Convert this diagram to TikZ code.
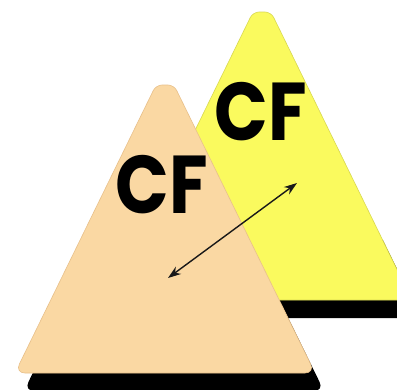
\documentclass[tikz,border=0pt]{standalone}
\usepackage{fontspec}
\newfontfamily\cffont{Poppins}
\usetikzlibrary{arrows.meta}
\definecolor{peach}{HTML}{FAD8A3}
\definecolor{lemon}{HTML}{FAFA5E}
\definecolor{peachedge}{HTML}{E8C08A}
\definecolor{lemonedge}{HTML}{D8D850}
\tikzset{
  cftri/.pic={
    \path[pic actions] (0,300) [rounded corners=10] -- (150,300) [rounded corners=6] -- (9,12) -- (-9,12) [rounded corners=10] -- (-150,300) -- cycle;
  },
  cfshadow/.pic={
    \begin{scope}
      \clip (-200,240) rectangle (200,400);
      \fill[black] (9,318) [rounded corners=10] -- (159,318) [rounded corners=6] -- (18,30) -- (0,30) [rounded corners=10] -- (-141,318) -- cycle;
    \end{scope}
  },
  cflabel/.style={font=\cffont\bfseries\fontsize{82}{82}\selectfont, text=black, inner sep=0pt, xscale=0.86},
  twoarrow/.style={{Stealth[length=13pt,width=9pt]}-{Stealth[length=13pt,width=9pt]}, line width=1.4pt, draw=black!90},
}
\begin{document}
\begin{tikzpicture}[x=1pt,y=-1pt]
\useasboundingbox (0,0) rectangle (397,389);
\clip (0,0) rectangle (397,389);
\fill[white] (0,0) rectangle (397,389);
% back (yellow) triangle
\pic at (262,0) {cfshadow};
\pic[fill=lemon, draw=lemonedge, line width=0.6pt] at (262,0) {cftri};
% front (peach) triangle
\pic at (165,73) {cfshadow};
\pic[fill=peach, draw=peachedge, line width=0.6pt] at (165,73) {cftri};
% labels
\node[cflabel] (cfback) at (261,112) {CF};
\node[cflabel] (cffront) at (162,185) {CF};
% arrow
\coordinate (tipfront) at (168,278);
\coordinate (tipback) at (297,183);
\draw[twoarrow] (tipfront) -- (tipback);
\end{tikzpicture}
\end{document}
